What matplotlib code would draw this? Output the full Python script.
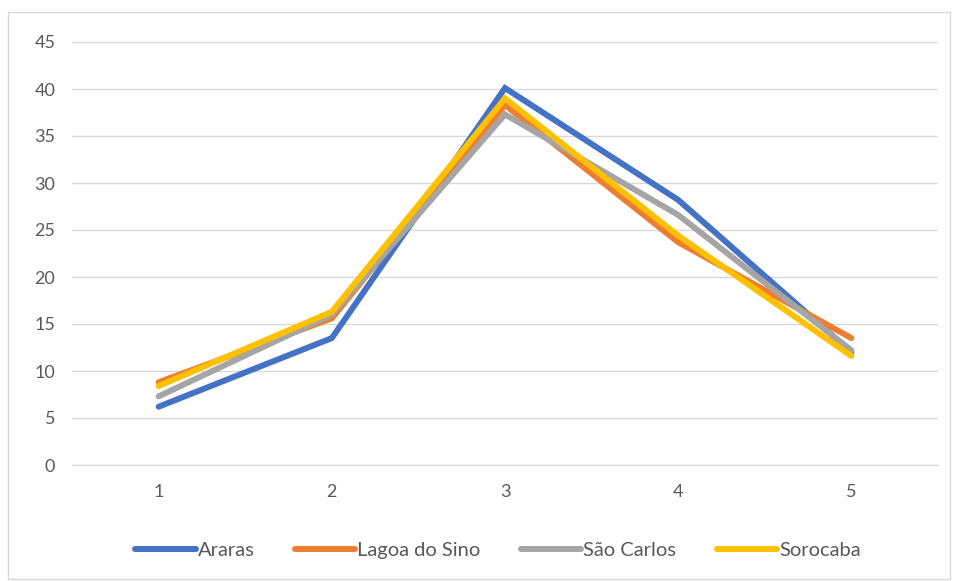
import matplotlib.pyplot as plt
from matplotlib.patches import Rectangle

x = [1, 2, 3, 4, 5]
araras = [6.2, 13.5, 40.1, 28.2, 12.0]
lagoa = [8.8, 15.6, 38.3, 23.7, 13.5]
sao_carlos = [7.3, 16.0, 37.3, 26.6, 12.2]
sorocaba = [8.4, 16.3, 39.0, 24.4, 11.6]

names = ['Araras', 'Lagoa do Sino', 'São Carlos', 'Sorocaba']
colors = ['#4472C4', '#ED7D31', '#A5A5A5', '#FFC000']

plt.rcParams['font.family'] = ['Lato', 'DejaVu Sans']

fig = plt.figure(figsize=(9.55, 5.81), dpi=100)
ax = fig.add_axes([72 / 955, 1 - 465 / 581, 866 / 955, 423 / 581])

for series, name, c in zip([araras, lagoa, sao_carlos, sorocaba], names, colors):
    ax.plot(x, series, color=c, lw=4.3, label=name, solid_capstyle='round',
            solid_joinstyle='miter')

ax.set_xlim(0.5, 5.5)
ax.set_ylim(0, 45)
ax.set_yticks(range(0, 46, 5))
ax.set_xticks(x)
ax.grid(axis='y', color='#D9D9D9', lw=1)
ax.set_axisbelow(True)
for s in ['top', 'right', 'left']:
    ax.spines[s].set_visible(False)
ax.spines['bottom'].set_color('#D9D9D9')
ax.tick_params(length=0, labelsize=13, colors='#595959')
ax.tick_params(axis='y', pad=12)
ax.tick_params(axis='x', pad=14)

# legend sits a bit right of the figure centre, as in the original
fig.legend(loc='center', bbox_to_anchor=(498 / 955, 1 - 550 / 581), ncol=4, frameon=False,
           fontsize=14.5, handlelength=3.0, columnspacing=2.0, handletextpad=0.1,
           labelcolor='#595959')

fig.patches.append(Rectangle((8 / 955, 2 / 581), 942 / 955, 567 / 581,
                             transform=fig.transFigure, fill=False,
                             edgecolor='#D9D9D9', lw=1))

fig.savefig('out.png', dpi=100)
